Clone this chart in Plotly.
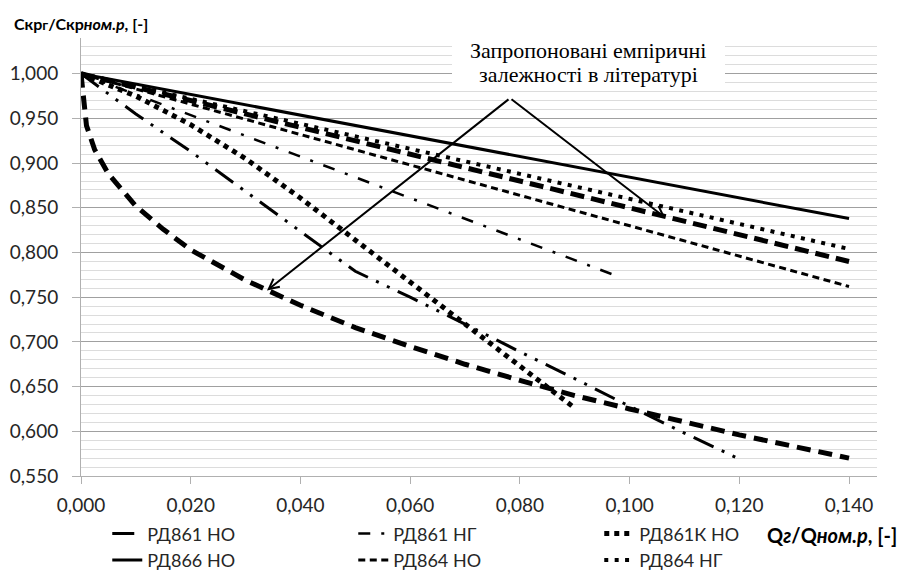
import plotly.graph_objects as go

# ---------------- data ----------------
# РД861 НО (long dash dot dot)
q_861_no = [0.00, 0.01, 0.02, 0.03, 0.04, 0.05, 0.06, 0.07, 0.08, 0.09, 0.10, 0.11, 0.12]
c_861_no = [1.000, 0.955, 0.913, 0.868, 0.823, 0.779, 0.750, 0.720, 0.689, 0.659, 0.628, 0.598, 0.569]

# РД861 НГ (dash dot)
q_861_ng = [0.000, 0.098]
c_861_ng = [1.000, 0.773]

# РД861К НО (square dot)
q_861k_no = [0.00, 0.01, 0.02, 0.03, 0.04, 0.05, 0.06, 0.07, 0.08, 0.09]
c_861k_no = [1.000, 0.975, 0.943, 0.905, 0.861, 0.814, 0.767, 0.720, 0.673, 0.626]

# РД866 НО (solid)
q_866_no = [0.00, 0.14]
c_866_no = [1.000, 0.838]

# РД864 НО (dash)
q_864_no = [0.00, 0.14]
c_864_no = [1.000, 0.762]

# РД864 НГ (round dot)
q_864_ng = [0.00, 0.14]
c_864_ng = [1.000, 0.804]

# literature dependencies (no legend entries)
q_lit_a = [0.00, 0.14]
c_lit_a = [1.000, 0.790]

q_lit_b = [0.000, 0.001, 0.0025, 0.005, 0.01, 0.015, 0.02, 0.03, 0.04, 0.05,
           0.06, 0.07, 0.08, 0.09, 0.10, 0.11, 0.12, 0.13, 0.14]
c_lit_b = [1.000, 0.942, 0.915, 0.888, 0.852, 0.826, 0.803, 0.769, 0.741, 0.716,
           0.695, 0.675, 0.657, 0.640, 0.625, 0.610, 0.596, 0.583, 0.570]

x_ticks = [0.00, 0.02, 0.04, 0.06, 0.08, 0.10, 0.12, 0.14]
y_ticks = [0.55, 0.60, 0.65, 0.70, 0.75, 0.80, 0.85, 0.90, 0.95, 1.00]

ann_text_1 = "Запропоновані емпіричні"
ann_text_2 = "залежності в літературі"
y_title = "<b>Скр<span style='font-size:14px'>г</span>/Скр<i>ном.р</i>, [-]</b>"
x_title = "<b>Q<i>г</i>/Q<i>ном.р</i>, [-]</b>"

# ---------------- figure ----------------
FONT = "Lato, 'Open Sans', sans-serif"
BLACK = "#000000"

L, T, PW, PH = 73, 30, 796, 438

fig = go.Figure()

# literature curves first (drawn underneath)
fig.add_trace(go.Scatter(x=q_lit_b, y=c_lit_b, mode="lines", showlegend=False,
                         line=dict(color=BLACK, width=5, dash="14px,8px")))
fig.add_trace(go.Scatter(x=q_lit_a, y=c_lit_a, mode="lines", showlegend=False,
                         line=dict(color=BLACK, width=5, dash="14px,7px")))

fig.add_trace(go.Scatter(x=q_861_no, y=c_861_no, mode="lines", name="РД861 НО",
                         line=dict(color=BLACK, width=3, dash="22px,9px,3px,9px,3px,9px")))
fig.add_trace(go.Scatter(x=q_861_ng, y=c_861_ng, mode="lines", name="РД861 НГ",
                         line=dict(color=BLACK, width=2.5, dash="12px,11px,3px,11px")))
fig.add_trace(go.Scatter(x=q_861k_no, y=c_861k_no, mode="lines", name="РД861К НО",
                         line=dict(color=BLACK, width=5, dash="5px,5px")))
fig.add_trace(go.Scatter(x=q_866_no, y=c_866_no, mode="lines", name="РД866 НО",
                         line=dict(color=BLACK, width=3)))
fig.add_trace(go.Scatter(x=q_864_no, y=c_864_no, mode="lines", name="РД864 НО",
                         line=dict(color=BLACK, width=3, dash="7px,4.5px")))
fig.add_trace(go.Scatter(x=q_864_ng, y=c_864_ng, mode="lines", name="РД864 НГ",
                         line=dict(color=BLACK, width=4, dash="4px,6.4px")))

fig.update_layout(
    width=909, height=572,
    margin=dict(l=L, r=909 - L - PW, t=T, b=572 - T - PH, autoexpand=False),
    paper_bgcolor="white", plot_bgcolor="white",
    separators=", ",
    font=dict(family=FONT, size=19, color="#262626"),
    showlegend=True,
    legend=dict(orientation="h", x=0.033, xanchor="left", y=-0.09, yanchor="top",
                entrywidth=201, entrywidthmode="pixels",
                font=dict(family=FONT, size=18, color="#262626"),
                bgcolor="rgba(0,0,0,0)", itemwidth=30, tracegroupgap=0),
    xaxis=dict(range=[0, 0.1451], tickvals=x_ticks, tickformat=".3f",
               showgrid=False, zeroline=False,
               showline=True, linecolor="#b0b0b0", linewidth=1,
               ticks="outside", ticklen=7, tickcolor="#b0b0b0",
               ticklabelstandoff=5,
               tickfont=dict(family=FONT, size=19, color="#262626")),
    yaxis=dict(range=[0.55, 1.04], tickvals=y_ticks, tickformat=".3f",
               showgrid=True, gridcolor="#a0a0a0", gridwidth=1, zeroline=False,
               showline=True, linecolor="#b0b0b0", linewidth=1,
               ticks="outside", ticklen=8, tickcolor="#b0b0b0",
               ticklabelstandoff=10,
               tickfont=dict(family=FONT, size=19, color="#262626"),
               minor=dict(dtick=0.01, tick0=0.55, showgrid=True,
                          gridcolor="#dcdcdc", gridwidth=1, ticks="")),
)

# positions below are given relative to the reference plot area (left 81, bottom 476)
def px(xp):
    return (xp - 81) / PW


def py(yp):
    return (476 - yp) / PH


# white box behind the annotation text
fig.add_shape(type="rect", xref="paper", yref="paper",
              x0=px(452), x1=px(725), y0=py(91), y1=py(30),
              fillcolor="white", line=dict(width=0), layer="above")

fig.add_annotation(text=ann_text_1, xref="paper", yref="paper",
                   x=px(588), y=py(50), showarrow=False,
                   xanchor="center", yanchor="middle",
                   font=dict(family="Liberation Serif, Times New Roman, serif", size=22, color=BLACK))
fig.add_annotation(text=ann_text_2, xref="paper", yref="paper",
                   x=px(588), y=py(75), showarrow=False,
                   xanchor="center", yanchor="middle",
                   font=dict(family="Liberation Serif, Times New Roman, serif", size=22, color=BLACK))

# arrows from a common apex to the two literature curves
apex_x, apex_y = 0.0782, 0.9727
for tip_x, tip_y in [(0.0339, 0.7576), (0.1065, 0.839)]:
    fig.add_annotation(x=tip_x, y=tip_y, xref="x", yref="y",
                       ax=apex_x, ay=apex_y, axref="x", ayref="y",
                       text="", showarrow=True, arrowhead=5, arrowsize=1,
                       arrowwidth=2, arrowcolor=BLACK, standoff=0)

# axis titles
fig.add_annotation(text=y_title, xref="paper", yref="paper",
                   x=px(12), y=py(23), showarrow=False,
                   xanchor="left", yanchor="middle",
                   font=dict(family=FONT, size=16, color=BLACK))
fig.add_annotation(text=x_title, xref="paper", yref="paper",
                   x=px(765), y=py(535), showarrow=False,
                   xanchor="left", yanchor="middle",
                   font=dict(family=FONT, size=20, color=BLACK))

fig.write_html("out.html")
